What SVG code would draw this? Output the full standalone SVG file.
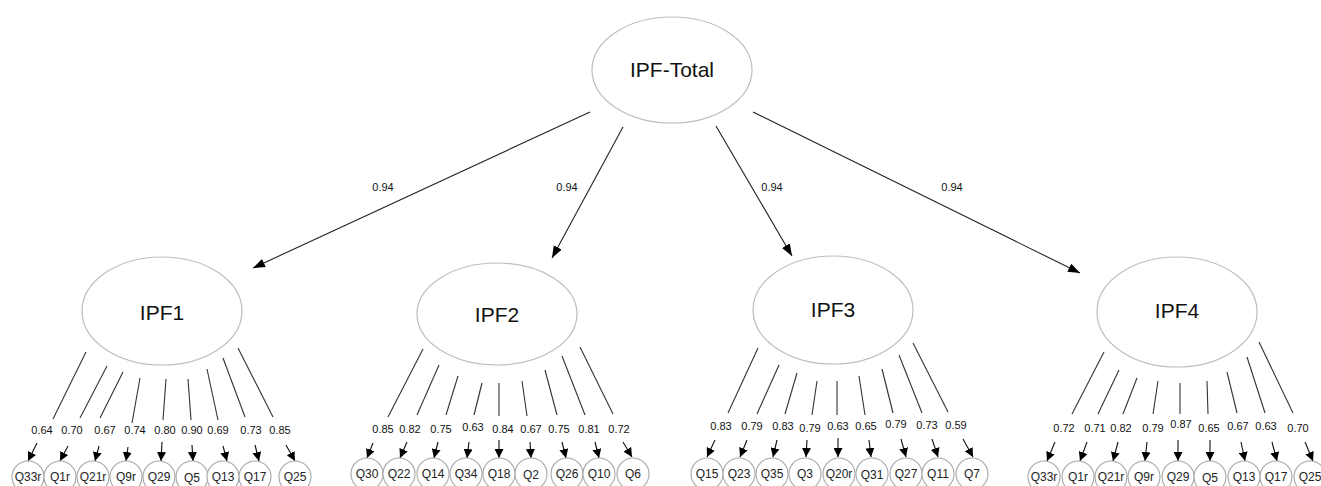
<svg xmlns="http://www.w3.org/2000/svg" width="1321" height="486" viewBox="0 0 1321 486">
<defs>
<marker id="big" markerUnits="userSpaceOnUse" markerWidth="13" markerHeight="10" refX="12" refY="4.5" orient="auto"><path d="M0,0 L12,4.5 L0,9 z" fill="#000"/></marker>
<marker id="sm" markerUnits="userSpaceOnUse" markerWidth="10" markerHeight="9" refX="9" refY="4.5" orient="auto"><path d="M0,0 L9,4.5 L0,9 z" fill="#000"/></marker>
</defs>
<style>
.lat{fill:#fff;stroke:#bdbdbd;stroke-width:1.2}
.ind{fill:#fff;stroke:#a8a8a8;stroke-width:1.1}
.lt{font-family:"Liberation Sans",Arial,sans-serif;font-size:21px;fill:#111;text-anchor:middle}
.it{font-family:"Liberation Sans",Arial,sans-serif;font-size:12px;fill:#222;text-anchor:middle}
.ld{font-family:"Liberation Sans",Arial,sans-serif;font-size:11px;fill:#111;text-anchor:middle}
.ln{stroke:#333;stroke-width:1.1;fill:none}
.ab{stroke:#222;stroke-width:1.1;fill:none;marker-end:url(#big)}
.as{stroke:#111;stroke-width:1.1;fill:none;marker-end:url(#sm)}
</style>
<rect width="1321" height="486" fill="#fff"/>

<g id="connectors">
<line class="ab" x1="590" y1="112" x2="253" y2="268"/>
<line class="ab" x1="623" y1="127" x2="552" y2="258"/>
<line class="ab" x1="716" y1="126" x2="792" y2="256"/>
<line class="ab" x1="753" y1="112" x2="1080" y2="273"/>
<text class="ld" x="383" y="191">0.94</text>
<text class="ld" x="567" y="191">0.94</text>
<text class="ld" x="772" y="191">0.94</text>
<text class="ld" x="952" y="191">0.94</text>

<!-- IPF1 loadings -->
<line class="ln" x1="86" y1="352" x2="53" y2="419"/>
<line class="ln" x1="107" y1="366" x2="80" y2="418"/>
<line class="ln" x1="123" y1="372" x2="100" y2="418"/>
<line class="ln" x1="140" y1="378" x2="132" y2="423"/>
<line class="ln" x1="166" y1="379" x2="163" y2="420"/>
<line class="ln" x1="188" y1="379" x2="191" y2="420"/>
<line class="ln" x1="207" y1="369" x2="218" y2="420"/>
<line class="ln" x1="223" y1="358" x2="245" y2="417"/>
<line class="ln" x1="238" y1="348" x2="273" y2="417"/>
<text class="ld" x="42" y="434">0.64</text>
<text class="ld" x="72" y="434">0.70</text>
<text class="ld" x="105" y="434">0.67</text>
<text class="ld" x="135" y="434">0.74</text>
<text class="ld" x="165" y="434">0.80</text>
<text class="ld" x="192" y="434">0.90</text>
<text class="ld" x="218" y="434">0.69</text>
<text class="ld" x="251" y="434">0.73</text>
<text class="ld" x="280" y="434">0.85</text>
<line class="as" x1="37" y1="443" x2="28" y2="461"/>
<line class="as" x1="68" y1="446" x2="60" y2="461"/>
<line class="as" x1="99" y1="446" x2="95" y2="461"/>
<line class="as" x1="128" y1="447" x2="126" y2="461"/>
<line class="as" x1="162" y1="442" x2="161" y2="461"/>
<line class="as" x1="192" y1="445" x2="193" y2="461"/>
<line class="as" x1="223" y1="446" x2="227" y2="461"/>
<line class="as" x1="255" y1="445" x2="259" y2="461"/>
<line class="as" x1="286" y1="445" x2="295" y2="461"/>

<!-- IPF2 loadings -->
<line class="ln" x1="423" y1="349" x2="388" y2="417"/>
<line class="ln" x1="439" y1="365" x2="417" y2="415"/>
<line class="ln" x1="458" y1="376" x2="446" y2="415"/>
<line class="ln" x1="482" y1="383" x2="474" y2="415"/>
<line class="ln" x1="499" y1="383" x2="499" y2="416"/>
<line class="ln" x1="522" y1="381" x2="527" y2="416"/>
<line class="ln" x1="545" y1="370" x2="557" y2="415"/>
<line class="ln" x1="562" y1="356" x2="585" y2="415"/>
<line class="ln" x1="580" y1="347" x2="613" y2="414"/>
<text class="ld" x="383" y="433">0.85</text>
<text class="ld" x="410" y="433">0.82</text>
<text class="ld" x="441" y="433">0.75</text>
<text class="ld" x="473" y="431">0.63</text>
<text class="ld" x="503" y="433">0.84</text>
<text class="ld" x="531" y="433">0.67</text>
<text class="ld" x="559" y="433">0.75</text>
<text class="ld" x="589" y="433">0.81</text>
<text class="ld" x="619" y="433">0.72</text>
<line class="as" x1="373" y1="443" x2="367" y2="458"/>
<line class="as" x1="407" y1="442" x2="400" y2="458"/>
<line class="as" x1="438" y1="442" x2="434" y2="458"/>
<line class="as" x1="469" y1="442" x2="467" y2="458"/>
<line class="as" x1="499" y1="440" x2="499" y2="458"/>
<line class="as" x1="530" y1="442" x2="531" y2="458"/>
<line class="as" x1="562" y1="442" x2="566" y2="458"/>
<line class="as" x1="595" y1="442" x2="599" y2="458"/>
<line class="as" x1="623" y1="442" x2="632" y2="457"/>

<!-- IPF3 loadings -->
<line class="ln" x1="758" y1="348" x2="728" y2="413"/>
<line class="ln" x1="779" y1="365" x2="757" y2="414"/>
<line class="ln" x1="797" y1="373" x2="785" y2="414"/>
<line class="ln" x1="817" y1="381" x2="812" y2="415"/>
<line class="ln" x1="837" y1="381" x2="837" y2="415"/>
<line class="ln" x1="859" y1="376" x2="865" y2="415"/>
<line class="ln" x1="882" y1="369" x2="893" y2="413"/>
<line class="ln" x1="899" y1="355" x2="922" y2="413"/>
<line class="ln" x1="913" y1="343" x2="948" y2="412"/>
<text class="ld" x="721" y="430">0.83</text>
<text class="ld" x="752" y="430">0.79</text>
<text class="ld" x="783" y="430">0.83</text>
<text class="ld" x="810" y="432">0.79</text>
<text class="ld" x="838" y="430">0.63</text>
<text class="ld" x="866" y="430">0.65</text>
<text class="ld" x="896" y="428">0.79</text>
<text class="ld" x="927" y="429">0.73</text>
<text class="ld" x="956" y="429">0.59</text>
<line class="as" x1="715" y1="440" x2="707" y2="457"/>
<line class="as" x1="747" y1="440" x2="740" y2="457"/>
<line class="as" x1="777" y1="440" x2="773" y2="457"/>
<line class="as" x1="807" y1="440" x2="806" y2="457"/>
<line class="as" x1="838" y1="438" x2="838" y2="457"/>
<line class="as" x1="869" y1="440" x2="871" y2="457"/>
<line class="as" x1="901" y1="439" x2="906" y2="457"/>
<line class="as" x1="932" y1="439" x2="938" y2="457"/>
<line class="as" x1="963" y1="439" x2="973" y2="457"/>

<!-- IPF4 loadings -->
<line class="ln" x1="1104" y1="352" x2="1072" y2="414"/>
<line class="ln" x1="1119" y1="370" x2="1098" y2="414"/>
<line class="ln" x1="1137" y1="378" x2="1123" y2="414"/>
<line class="ln" x1="1158" y1="381" x2="1153" y2="414"/>
<line class="ln" x1="1180" y1="383" x2="1180" y2="414"/>
<line class="ln" x1="1207" y1="381" x2="1208" y2="414"/>
<line class="ln" x1="1227" y1="372" x2="1237" y2="413"/>
<line class="ln" x1="1247" y1="357" x2="1265" y2="413"/>
<line class="ln" x1="1259" y1="342" x2="1293" y2="413"/>
<text class="ld" x="1064" y="432">0.72</text>
<text class="ld" x="1095" y="432">0.71</text>
<text class="ld" x="1121" y="432">0.82</text>
<text class="ld" x="1153" y="432">0.79</text>
<text class="ld" x="1181" y="428">0.87</text>
<text class="ld" x="1209" y="432">0.65</text>
<text class="ld" x="1238" y="430">0.67</text>
<text class="ld" x="1266" y="430">0.63</text>
<text class="ld" x="1298" y="432">0.70</text>
<line class="as" x1="1055" y1="442" x2="1047" y2="461"/>
<line class="as" x1="1087" y1="442" x2="1080" y2="461"/>
<line class="as" x1="1118" y1="442" x2="1113" y2="461"/>
<line class="as" x1="1147" y1="442" x2="1145" y2="461"/>
<line class="as" x1="1178" y1="440" x2="1178" y2="461"/>
<line class="as" x1="1210" y1="440" x2="1210" y2="461"/>
<line class="as" x1="1241" y1="442" x2="1245" y2="461"/>
<line class="as" x1="1272" y1="442" x2="1277" y2="461"/>
<line class="as" x1="1305" y1="442" x2="1313" y2="461"/>
</g>

<g id="IPF-Total"><ellipse class="lat" cx="672" cy="70" rx="80" ry="53"/><text class="lt" x="672" y="77">IPF-Total</text></g>
<g id="IPF1"><ellipse class="lat" cx="162" cy="311" rx="80" ry="54"/><text class="lt" x="162" y="320">IPF1</text></g>
<g id="IPF2"><ellipse class="lat" cx="497" cy="314" rx="80" ry="51"/><text class="lt" x="497" y="322">IPF2</text></g>
<g id="IPF3"><ellipse class="lat" cx="833" cy="310" rx="80" ry="54"/><text class="lt" x="833" y="317">IPF3</text></g>
<g id="IPF4"><ellipse class="lat" cx="1177" cy="312" rx="80" ry="55"/><text class="lt" x="1177" y="318">IPF4</text></g>

<g id="IPF1-items">
<g id="g1-Q33r"><circle class="ind" cx="28" cy="477" r="16"/><text class="it" x="28" y="481">Q33r</text></g>
<g id="g1-Q1r"><circle class="ind" cx="60" cy="477" r="16"/><text class="it" x="60" y="481">Q1r</text></g>
<g id="g1-Q21r"><circle class="ind" cx="93" cy="477" r="16"/><text class="it" x="93" y="481">Q21r</text></g>
<g id="g1-Q9r"><circle class="ind" cx="126" cy="477" r="16"/><text class="it" x="126" y="481">Q9r</text></g>
<g id="g1-Q29"><circle class="ind" cx="159" cy="477" r="16"/><text class="it" x="159" y="481">Q29</text></g>
<g id="g1-Q5"><circle class="ind" cx="192" cy="477" r="16"/><text class="it" x="192" y="482">Q5</text></g>
<g id="g1-Q13"><circle class="ind" cx="223" cy="477" r="16"/><text class="it" x="223" y="481">Q13</text></g>
<g id="g1-Q17"><circle class="ind" cx="255" cy="477" r="16"/><text class="it" x="255" y="481">Q17</text></g>
<g id="g1-Q25"><circle class="ind" cx="295" cy="477" r="16"/><text class="it" x="295" y="481">Q25</text></g>
</g>
<g id="IPF2-items">
<g id="g2-Q30"><circle class="ind" cx="367" cy="474" r="16"/><text class="it" x="367" y="478">Q30</text></g>
<g id="g2-Q22"><circle class="ind" cx="399" cy="474" r="16"/><text class="it" x="399" y="478">Q22</text></g>
<g id="g2-Q14"><circle class="ind" cx="433" cy="474" r="16"/><text class="it" x="433" y="478">Q14</text></g>
<g id="g2-Q34"><circle class="ind" cx="466" cy="474" r="16"/><text class="it" x="466" y="478">Q34</text></g>
<g id="g2-Q18"><circle class="ind" cx="499" cy="474" r="16"/><text class="it" x="499" y="478">Q18</text></g>
<g id="g2-Q2"><circle class="ind" cx="531" cy="474" r="16"/><text class="it" x="531" y="479">Q2</text></g>
<g id="g2-Q26"><circle class="ind" cx="567" cy="474" r="16"/><text class="it" x="567" y="478">Q26</text></g>
<g id="g2-Q10"><circle class="ind" cx="599" cy="474" r="16"/><text class="it" x="599" y="478">Q10</text></g>
<g id="g2-Q6"><circle class="ind" cx="633" cy="474" r="16"/><text class="it" x="633" y="478">Q6</text></g>
</g>
<g id="IPF3-items">
<g id="g3-Q15"><circle class="ind" cx="707" cy="474" r="16"/><text class="it" x="707" y="478">Q15</text></g>
<g id="g3-Q23"><circle class="ind" cx="739" cy="474" r="16"/><text class="it" x="739" y="478">Q23</text></g>
<g id="g3-Q35"><circle class="ind" cx="772" cy="474" r="16"/><text class="it" x="772" y="478">Q35</text></g>
<g id="g3-Q3"><circle class="ind" cx="805" cy="474" r="16"/><text class="it" x="805" y="478">Q3</text></g>
<g id="g3-Q20r"><circle class="ind" cx="839" cy="474" r="16"/><text class="it" x="839" y="478">Q20r</text></g>
<g id="g3-Q31"><circle class="ind" cx="872" cy="474" r="16"/><text class="it" x="872" y="479">Q31</text></g>
<g id="g3-Q27"><circle class="ind" cx="906" cy="474" r="16"/><text class="it" x="906" y="478">Q27</text></g>
<g id="g3-Q11"><circle class="ind" cx="938" cy="474" r="16"/><text class="it" x="938" y="478">Q11</text></g>
<g id="g3-Q7"><circle class="ind" cx="972" cy="474" r="16"/><text class="it" x="972" y="478">Q7</text></g>
</g>
<g id="IPF4-items">
<g id="g4-Q33r"><circle class="ind" cx="1044" cy="477" r="16"/><text class="it" x="1044" y="481">Q33r</text></g>
<g id="g4-Q1r"><circle class="ind" cx="1078" cy="477" r="16"/><text class="it" x="1078" y="481">Q1r</text></g>
<g id="g4-Q21r"><circle class="ind" cx="1111" cy="477" r="16"/><text class="it" x="1111" y="481">Q21r</text></g>
<g id="g4-Q9r"><circle class="ind" cx="1144" cy="477" r="16"/><text class="it" x="1144" y="481">Q9r</text></g>
<g id="g4-Q29"><circle class="ind" cx="1178" cy="477" r="16"/><text class="it" x="1178" y="481">Q29</text></g>
<g id="g4-Q5"><circle class="ind" cx="1210" cy="477" r="16"/><text class="it" x="1210" y="482">Q5</text></g>
<g id="g4-Q13"><circle class="ind" cx="1244" cy="477" r="16"/><text class="it" x="1244" y="481">Q13</text></g>
<g id="g4-Q17"><circle class="ind" cx="1276" cy="477" r="16"/><text class="it" x="1276" y="481">Q17</text></g>
<g id="g4-Q25"><circle class="ind" cx="1310" cy="477" r="16"/><text class="it" x="1310" y="481">Q25</text></g>
</g>
</svg>
